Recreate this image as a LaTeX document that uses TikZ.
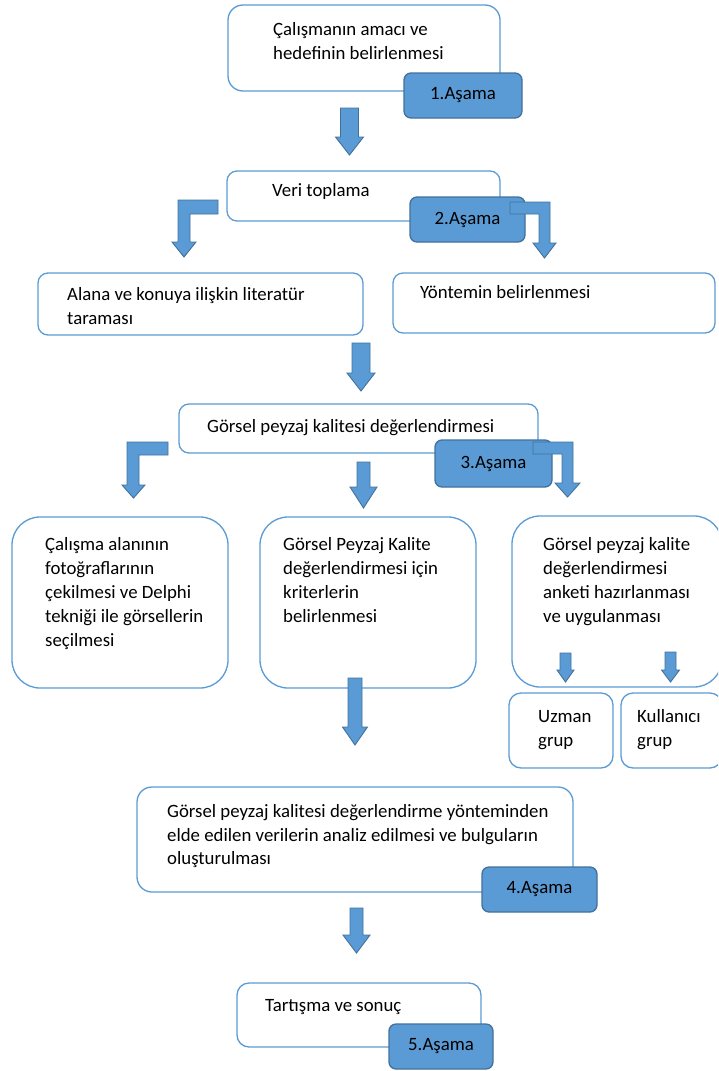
\documentclass[tikz,border=0pt]{standalone}
\usepackage{fontspec}
\setmainfont{Carlito}
\usetikzlibrary{positioning}
\definecolor{boxblue}{HTML}{5B9BD5}
\definecolor{darkblue}{HTML}{41719C}

\begin{document}
\begin{tikzpicture}[
    x = 1pt,
    y = -1pt,
    box/.style = {
      draw = boxblue,
      fill = white,
      line width = 1.3pt,
      rounded corners = 12pt,
      inner sep = 0pt
    },
    tag/.style = {
      draw = darkblue,
      fill = boxblue,
      line width = 1.3pt,
      rounded corners = 7pt,
      minimum height = 45pt,
      inner sep = 0pt,
      font = \fontsize{18.8}{24}\selectfont
    },
    txt/.style = {
      anchor = north west,
      align = left,
      inner sep = 0pt,
      font = \fontsize{18.8}{24}\selectfont
    },
    blk/.style = {
      draw = darkblue,
      fill = boxblue,
      line width = 0.9pt
    }
  ]
  \useasboundingbox (0,0) rectangle (718,1071);
  \clip (0,0) rectangle (718,1071);

  % boxes
  \node[box, rounded corners=15pt, minimum width=272pt, minimum height=86pt] (b1) at (364,48) {};
  \node[box, rounded corners=10pt, minimum width=273pt, minimum height=50pt] (b2) at (363.5,196) {};
  \node[box, rounded corners=10pt, minimum width=325pt, minimum height=62pt] (b2a) at (200.5,304) {};
  \node[box, rounded corners=10pt, minimum width=322pt, minimum height=60pt] (b2b) at (554,303) {};
  \node[box, rounded corners=10pt, minimum width=359pt, minimum height=49pt] (b3) at (358.5,428.5) {};
  \node[box, rounded corners=28pt, minimum width=216pt, minimum height=171pt] (b3a) at (120,602.5) {};
  \node[box, rounded corners=28pt, minimum width=216pt, minimum height=171pt] (b3b) at (368,602.5) {};
  \node[box, rounded corners=28pt, minimum width=210pt, minimum height=171pt] (b3c) at (617,601.5) {};
  \node[box, minimum width=104pt, minimum height=75pt] (b4a) at (561,730.5) {};
  \node[box, minimum width=101pt, minimum height=75pt] (b4b) at (671.5,730.5) {};
  \node[box, rounded corners=15pt, minimum width=436pt, minimum height=105pt] (b5) at (355,839.5) {};
  \node[box, minimum width=244pt, minimum height=64pt] (b6) at (359,1015) {};

  % texts
  \node[txt] (t1) at (273,18.2) {\strut Çalışmanın amacı ve\\hedefinin belirlenmesi};
  \node[txt] (t2) at (272,179.2) {\strut Veri toplama};
  \node[txt] (t2a) at (67,283.2) {\strut Alana ve konuya ilişkin literatür\\taraması};
  \node[txt] (t2b) at (420,281.2) {\strut Yöntemin belirlenmesi};
  \node[txt] (t3) at (207,415.2) {\strut Görsel peyzaj kalitesi değerlendirmesi};
  \node[txt] (t3a) at (45,533.2) {\strut Çalışma alanının\\fotoğraflarının\\çekilmesi ve Delphi\\tekniği ile görsellerin\\seçilmesi};
  \node[txt] (t3b) at (283,533.2) {\strut Görsel Peyzaj Kalite\\değerlendirmesi için\\kriterlerin\\belirlenmesi};
  \node[txt] (t3c) at (543,533.2) {\strut Görsel peyzaj kalite\\değerlendirmesi\\anketi hazırlanması\\ve uygulanması};
  \node[txt] (t4a) at (538,705.2) {\strut Uzman\\grup};
  \node[txt] (t4b) at (637,705.2) {\strut Kullanıcı\\grup};
  \node[txt, font=\fontsize{18.8}{23.5}\selectfont] (t5) at (167,801.2) {\strut Görsel peyzaj kalitesi değerlendirme yönteminden\\elde edilen verilerin analiz edilmesi ve bulguların\\oluşturulması};
  \node[txt] (t6) at (265,994.2) {\strut Tartışma ve sonuç};

  % stage tags
  \node[tag, minimum width=118pt] (s1) at (463,95.5) {1.Aşama};
  \node[tag, minimum width=115pt] (s2) at (467.5,219.5) {2.Aşama};
  \node[tag, minimum width=117pt, minimum height=47pt] (s3) at (493.5,463.5) {3.Aşama};
  \node[tag, minimum width=115pt] (s4) at (539.5,889.5) {4.Aşama};
  \node[tag, minimum width=104pt] (s5) at (441,1046.5) {5.Aşama};

  % block arrows
  \draw[blk] (340.5,108) -- (358.5,108) -- (358.5,137) -- (363.5,137) -- (349.5,155) -- (335.5,137) -- (340.5,137) -- cycle;
  \draw[blk] (218,200) -- (178,200) -- (178,242) -- (172,242) -- (184,257) -- (196,242) -- (190,242) -- (190,214) -- (218,214) -- cycle;
  \draw[blk] (510,202) -- (550,202) -- (550,243) -- (556,243) -- (544.5,258) -- (533,243) -- (539,243) -- (539,214) -- (510,214) -- cycle;
  \draw[blk] (352,343) -- (370,343) -- (370,373) -- (375,373) -- (361,391) -- (347,373) -- (352,373) -- cycle;
  \draw[blk] (168,442) -- (127,442) -- (127,485) -- (122,485) -- (133.5,498) -- (145,485) -- (139,485) -- (139,455) -- (168,455) -- cycle;
  \draw[blk] (357,462) -- (370,462) -- (370,487) -- (377,487) -- (363.5,508) -- (350,487) -- (357,487) -- cycle;
  \draw[blk] (533,442) -- (573,442) -- (573,483) -- (580,483) -- (567.5,497) -- (555,483) -- (562,483) -- (562,454) -- (533,454) -- cycle;
  \draw[blk] (560,653) -- (571,653) -- (571,670) -- (574,670) -- (565.5,682) -- (557,670) -- (560,670) -- cycle;
  \draw[blk] (665,652) -- (676,652) -- (676,670) -- (679.5,670) -- (670.5,682) -- (661.5,670) -- (665,670) -- cycle;
  \draw[blk] (348,678) -- (362,678) -- (362,727) -- (367.5,727) -- (355,745) -- (342.5,727) -- (348,727) -- cycle;
  \draw[blk] (350,908) -- (363,908) -- (363,935) -- (370,935) -- (356.5,953) -- (343,935) -- (350,935) -- cycle;
\end{tikzpicture}
\end{document}
